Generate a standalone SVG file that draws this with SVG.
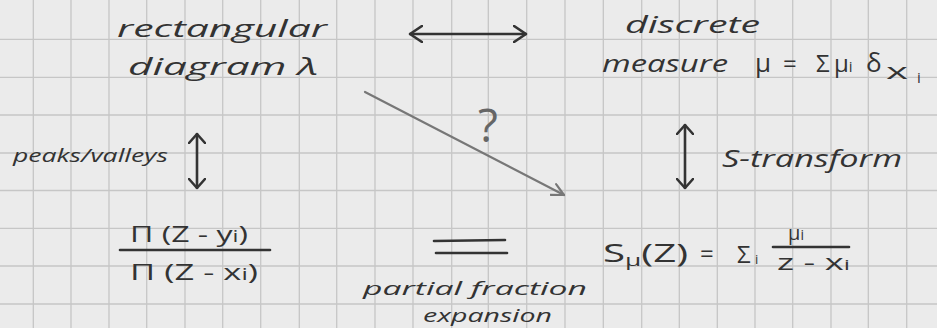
<svg xmlns="http://www.w3.org/2000/svg" width="937" height="328" viewBox="0 0 937 328">
<style>
.grid{stroke:#c6c6c6;stroke-width:1.3;fill:none}
.t{font-family:"Open Sans","Liberation Sans",sans-serif;fill:#333}
.w{font-style:italic}
.ink{stroke:#333;stroke-width:2.6;fill:none;stroke-linecap:round}
.pencil{stroke:#777;stroke-width:2.2;fill:none;stroke-linecap:round}
</style>
<defs>
<marker id="ah" viewBox="0 0 14 18" refX="13" refY="9" markerWidth="14" markerHeight="18" markerUnits="userSpaceOnUse" orient="auto-start-reverse">
<path d="M1,1 L13,9 L1,17" fill="none" stroke="#333" stroke-width="2.6" stroke-linecap="round" stroke-linejoin="round"/>
</marker>
<marker id="ahv" viewBox="0 0 11 18" refX="10" refY="9" markerWidth="11" markerHeight="18" markerUnits="userSpaceOnUse" orient="auto-start-reverse">
<path d="M1,1 L10,9 L1,17" fill="none" stroke="#333" stroke-width="2.6" stroke-linecap="round" stroke-linejoin="round"/>
</marker>
<marker id="ahp" viewBox="0 0 14 14" refX="13" refY="7" markerWidth="14" markerHeight="14" markerUnits="userSpaceOnUse" orient="auto">
<path d="M1,1 L13,7 L1,13" fill="none" stroke="#777" stroke-width="2.2" stroke-linecap="round" stroke-linejoin="round"/>
</marker>
</defs>
<rect width="937" height="328" fill="#ebebeb"/>
<g id="grid" class="grid">
<path d="M33.3,0V328M71,0V328M109,0V328M146.7,0V328M185,0V328M222.7,0V328M260.7,0V328M299.3,0V328M336.7,0V328M375,0V328M413,0V328M451.7,0V328M488.3,0V328M526.7,0V328M565,0V328M603.3,0V328M641.7,0V328M679.3,0V328M717.3,0V328M755,0V328M792.7,0V328M831,0V328M868.3,0V328M906.7,0V328"/>
<path d="M0,39.3H937M0,77.3H937M0,115H937M0,153H937M0,190.5H937M0,228.3H937M0,266H937M0,304H937"/>
</g>
<g id="rectangular-diagram">
<text class="t w" x="117" y="37" font-size="24" textLength="210" lengthAdjust="spacingAndGlyphs">rectangular</text>
<text class="t w" x="128" y="75" font-size="24" textLength="190" lengthAdjust="spacingAndGlyphs">diagram λ</text>
</g>
<g id="discrete-measure">
<text class="t w" x="625" y="33" font-size="23" textLength="135" lengthAdjust="spacingAndGlyphs">discrete</text>
<text class="t w" x="602" y="72" font-size="23" textLength="126" lengthAdjust="spacingAndGlyphs">measure</text>
<text class="t" x="755" y="72" font-size="26">μ</text>
<text class="t" x="783" y="72" font-size="24">=</text>
<text class="t" x="816" y="72" font-size="24">Σ</text>
<text class="t" x="834" y="72" font-size="24">μ<tspan font-size="15">i</tspan></text>
<text class="t" x="866" y="72" font-size="26">δ</text>
<text class="t" x="886" y="79" font-size="22" textLength="22" lengthAdjust="spacingAndGlyphs">x</text>
<text class="t" x="917" y="83" font-size="15">i</text>
</g>
<g id="product-ratio">
<text class="t" x="130" y="242" font-size="22" textLength="118" lengthAdjust="spacingAndGlyphs">Π (Z - y<tspan font-size="16">i</tspan>)</text>
<line class="ink" x1="120" y1="250" x2="270" y2="250" stroke-width="2.2"/>
<text class="t" x="130" y="280" font-size="22" textLength="128" lengthAdjust="spacingAndGlyphs">Π (Z - x<tspan font-size="16">i</tspan>)</text>
</g>
<g id="s-transform-formula">
<text class="t" x="603" y="262" font-size="26" textLength="85" lengthAdjust="spacingAndGlyphs">S<tspan font-size="17" dy="4">μ</tspan><tspan dy="-4">(Z)</tspan></text>
<text class="t" x="700" y="262" font-size="24">=</text>
<text class="t" x="737" y="263" font-size="24">Σ</text>
<text class="t" x="755" y="264" font-size="13">i</text>
<line class="ink" x1="773" y1="247" x2="849" y2="247" stroke-width="2.2"/>
<text class="t" x="788" y="240" font-size="20">μ<tspan font-size="14">i</tspan></text>
<text class="t" x="777" y="270" font-size="22" textLength="73" lengthAdjust="spacingAndGlyphs">z - x<tspan font-size="15">i</tspan></text>
</g>
<g id="connectors">
<line class="ink" x1="410" y1="34" x2="526" y2="34" marker-start="url(#ah)" marker-end="url(#ah)"/>
<line class="ink" x1="197" y1="134" x2="197" y2="188" marker-start="url(#ahv)" marker-end="url(#ahv)"/>
<line class="ink" x1="685" y1="125" x2="685" y2="188" marker-start="url(#ahv)" marker-end="url(#ahv)"/>
<line class="pencil" x1="365" y1="92" x2="564" y2="195" marker-end="url(#ahp)"/>
<text class="t" x="488" y="142" font-size="46" text-anchor="middle" style="fill:#666">?</text>
<text class="t w" x="13" y="162" font-size="18" textLength="155" lengthAdjust="spacingAndGlyphs">peaks/valleys</text>
<text class="t w" x="722" y="167" font-size="24" textLength="180" lengthAdjust="spacingAndGlyphs">S-transform</text>
<line class="ink" x1="434" y1="241" x2="505" y2="240"/>
<line class="ink" x1="436" y1="253" x2="507" y2="253"/>
<text class="t w" x="363" y="295" font-size="19" textLength="224" lengthAdjust="spacingAndGlyphs">partial fraction</text>
<text class="t w" x="423" y="322" font-size="19" textLength="129" lengthAdjust="spacingAndGlyphs">expansion</text>
</g>
</svg>
